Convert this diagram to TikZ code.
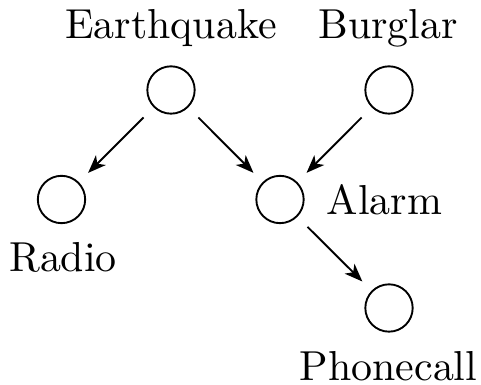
\documentclass[tikz,border=0pt]{standalone}
\usetikzlibrary{arrows.meta}
\begin{document}
\begin{tikzpicture}[x=0.2387pt,y=-0.2387pt,
    var/.style={draw,circle,line width=0.45pt,inner sep=0pt,minimum size=11.3pt},
    lbl/.style={inner sep=0pt,anchor=base},
    edge/.style={-{Stealth[length=4.3pt,width=3.3pt,inset=1.2pt]},line width=0.45pt,shorten <=3.4pt,shorten >=3.1pt}]
  \useasboundingbox (0,0) rectangle (481,385);
  % variables of the network
  \node[var] (e) at (171,90) {};
  \node[var] (b) at (389,90) {};
  \node[var] (r) at (61.5,199.5) {};
  \node[var] (a) at (280,199.5) {};
  \node[var] (p) at (389,308) {};
  % names
  \node[lbl] (le) at (171,39) {Earthquake};
  \node[lbl] (lb) at (388,39) {Burglar};
  \node[lbl] (lr) at (63,271.7) {Radio};
  \node[lbl,anchor=base west] (la) at (326,215) {Alarm};
  \node[lbl] (lp) at (388.5,381) {Phonecall};
  % dependencies
  \draw[edge] (e) -- (r);
  \draw[edge] (e) -- (a);
  \draw[edge] (b) -- (a);
  \draw[edge] (a) -- (p);
\end{tikzpicture}
\end{document}
